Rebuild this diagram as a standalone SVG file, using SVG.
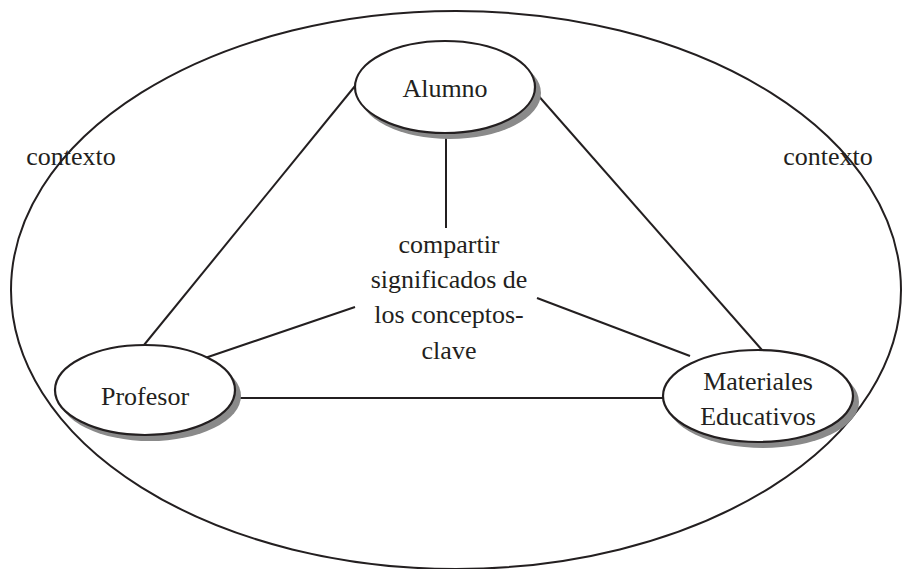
<svg xmlns="http://www.w3.org/2000/svg" width="904" height="569" viewBox="0 0 904 569">
<style>
.t{font-family:"Liberation Serif","Times New Roman",serif;font-size:26px;fill:#231f20;text-anchor:middle}
.ln{stroke:#231f20;stroke-width:2;fill:none}
.node{fill:#fff;stroke:#231f20;stroke-width:2.2}
.sh{fill:#8a8a8a}
</style>
<rect width="904" height="569" fill="#fff"/>
<ellipse cx="456" cy="290" rx="445" ry="279" class="ln"/>
<g id="connectors">
<line x1="355" y1="86" x2="144" y2="345" class="ln"/>
<line x1="536" y1="93" x2="762" y2="350" class="ln"/>
<line x1="238" y1="398" x2="664" y2="398" class="ln"/>
<line x1="446" y1="132" x2="446" y2="228" class="ln"/>
<line x1="205" y1="358" x2="355" y2="307" class="ln"/>
<line x1="537" y1="298" x2="690" y2="356" class="ln"/>
</g>
<g id="alumno">
<ellipse cx="450" cy="93" rx="91" ry="46" class="sh"/>
<ellipse cx="445" cy="87" rx="90" ry="46" class="node"/>
<text x="445" y="97" class="t">Alumno</text>
</g>
<g id="profesor">
<ellipse cx="150" cy="396" rx="91" ry="45" class="sh"/>
<ellipse cx="145" cy="390" rx="90" ry="45" class="node"/>
<text x="145" y="405" class="t">Profesor</text>
</g>
<g id="materiales">
<ellipse cx="763" cy="402" rx="96" ry="46" class="sh"/>
<ellipse cx="758" cy="396" rx="95" ry="46" class="node"/>
<text x="758" y="390" class="t">Materiales</text>
<text x="758" y="425" class="t">Educativos</text>
</g>
<g id="centro">
<text x="449" y="253" class="t">compartir</text>
<text x="449" y="288" class="t">significados de</text>
<text x="449" y="323" class="t">los conceptos-</text>
<text x="449" y="359" class="t">clave</text>
</g>
<g id="contexto">
<text x="71" y="165" class="t">contexto</text>
<text x="828" y="165" class="t">contexto</text>
</g>
</svg>
